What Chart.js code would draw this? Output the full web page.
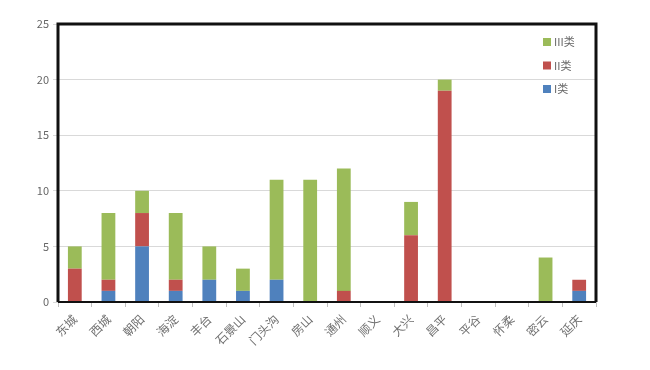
<!DOCTYPE html>
<html>
<head>
<meta charset="utf-8">
<script src="https://cdn.jsdelivr.net/npm/chart.js@4/dist/chart.umd.min.js"></script>
<style>
  html, body { margin: 0; padding: 0; background: #fff; }
  #wrap { width: 650px; height: 370px; position: relative; }
</style>
</head>
<body>
<div id="wrap"><canvas id="chart"></canvas></div>
<script>
const districts = ['东城', '西城', '朝阳', '海淀', '丰台', '石景山', '门头沟', '房山', '通州', '顺义', '大兴', '昌平', '平谷', '怀柔', '密云', '延庆'];
const class1 = [0, 1, 5, 1, 2, 1, 2, 0, 0, 0, 0, 0, 0, 0, 0, 1];
const class2 = [3, 1, 3, 1, 0, 0, 0, 0, 1, 0, 6, 19, 0, 0, 0, 1];
const class3 = [2, 6, 2, 6, 3, 2, 9, 11, 11, 0, 3, 1, 0, 0, 4, 0];
const yTicks = [0, 5, 10, 15, 20, 25];

const cjk = '"Noto Sans CJK SC", "Noto Sans", sans-serif';

// legend drawn inside the plot, top right, in reverse order
const innerLegend = {
  id: 'innerLegend',
  afterDraw: chart => {
    const ctx = chart.ctx;
    const area = chart.chartArea;
    const x = area.right - 53;
    let y = area.top + 18;
    ctx.save();
    ctx.font = '11px ' + cjk;
    ctx.textBaseline = 'middle';
    chart.data.datasets.slice().reverse().forEach(ds => {
      ctx.fillStyle = ds.backgroundColor;
      ctx.fillRect(x, y - 4, 8, 8);
      ctx.fillStyle = '#666';
      ctx.fillText(ds.label, x + 11, y);
      y += 23.5;
    });
    ctx.restore();
  }
};

// heavy frame around the plot
const frame = {
  id: 'frame',
  afterDatasetsDraw: chart => {
    const ctx = chart.ctx;
    const a = chart.chartArea;
    ctx.save();
    ctx.strokeStyle = '#111';
    ctx.lineWidth = 3;
    ctx.beginPath();
    ctx.moveTo(a.left, a.bottom);
    ctx.lineTo(a.left, a.top);
    ctx.lineTo(a.right, a.top);
    ctx.lineTo(a.right, a.bottom);
    ctx.stroke();
    ctx.lineWidth = 2;
    ctx.beginPath();
    ctx.moveTo(a.left, a.bottom);
    ctx.lineTo(a.right, a.bottom);
    ctx.stroke();
    ctx.restore();
  }
};

new Chart(document.getElementById('chart'), {
  type: 'bar',
  data: {
    labels: districts,
    datasets: [
      { label: 'I类', data: class1, backgroundColor: '#4F81BD' },
      { label: 'II类', data: class2, backgroundColor: '#C0504D' },
      { label: 'III类', data: class3, backgroundColor: '#9BBB59' },
    ],
  },
  plugins: [innerLegend, frame],
  options: {
    responsive: true,
    maintainAspectRatio: false,
    animation: false,
    layout: { padding: { top: 24, right: 54, left: 0, bottom: 0 } },
    datasets: { bar: { barPercentage: 0.41, categoryPercentage: 1 } },
    plugins: {
      legend: { display: false },
      tooltip: { enabled: false },
    },
    scales: {
      x: {
        stacked: true,
        afterFit: s => { s.height = 68; },
        grid: { display: true, drawOnChartArea: false, offset: true, tickLength: 5, color: '#bfbfbf' },
        border: { display: false },
        ticks: {
          color: '#707070',
          font: { size: 12, family: cjk },
          minRotation: 45,
          maxRotation: 45,
          padding: 5,
        },
      },
      y: {
        stacked: true,
        min: 0,
        max: 25,
        afterFit: s => { s.width = 58; },
        afterBuildTicks: s => { s.ticks = yTicks.map(v => ({ value: v })); },
        grid: { color: '#d9d9d9', tickLength: 5, lineWidth: 1 },
        border: { display: false },
        ticks: {
          color: '#666',
          font: { size: 11, family: cjk },
          padding: 4,
        },
      },
    },
  },
});
</script>
</body>
</html>
